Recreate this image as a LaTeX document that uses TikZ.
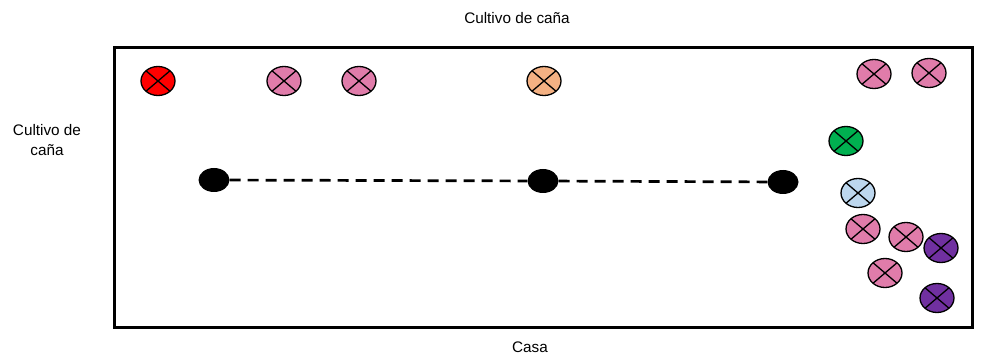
\documentclass[tikz,border=0pt]{standalone}
\usepackage{fontspec}
\setmainfont{Liberation Sans}
\usetikzlibrary{shapes.geometric}
\definecolor{cred}{HTML}{FF0000}
\definecolor{cpink}{HTML}{E07CAA}
\definecolor{corange}{HTML}{F4B183}
\definecolor{cgreen}{HTML}{00B050}
\definecolor{cblue}{HTML}{BDD7EE}
\definecolor{cpurple}{HTML}{7030A0}
\begin{document}
\begin{tikzpicture}[x=1pt,y=-1pt,
  xo/.style={ellipse,draw,line width=1.3pt,minimum width=34pt,minimum height=29pt,inner sep=0pt,fill=#1,
    path picture={\draw[line width=1.3pt] (path picture bounding box.north west)--(path picture bounding box.south east)
      (path picture bounding box.north east)--(path picture bounding box.south west);}},
  dot/.style={ellipse,fill=black,minimum width=31pt,minimum height=24pt,inner sep=0pt},
  lbl/.style={font=\fontsize{15.3}{19.5}\selectfont,align=center,inner sep=0pt}]
\useasboundingbox (0,0) rectangle (982,358);
\node[draw,line width=3pt,minimum width=858pt,minimum height=279pt,inner sep=0pt] (frame) at (543,187.5) {};
\node[lbl] (ttop) at (517,18) {Cultivo de caña};
\node[lbl] (tleft) at (47,140) {Cultivo de\\caña};
\node[lbl] (tbot) at (530,347) {Casa};
\node[xo=cred] (a1) at (158,81) {};
\node[xo=cpink] (a2) at (284,81) {};
\node[xo=cpink] (a3) at (359,81) {};
\node[xo=corange] (a4) at (544,81) {};
\node[xo=cpink] (b1) at (874,74) {};
\node[xo=cpink] (b2) at (929,73) {};
\node[xo=cgreen] (b3) at (846,141) {};
\node[xo=cblue] (b4) at (858,193) {};
\node[xo=cpink] (b5) at (863,229) {};
\node[xo=cpink] (b6) at (906,237) {};
\node[xo=cpurple] (b7) at (941,248) {};
\node[xo=cpink] (b8) at (885,273) {};
\node[xo=cpurple] (b9) at (937,298) {};
\node[dot] (d1) at (214,180) {};
\node[dot] (d2) at (543,181) {};
\node[dot] (d3) at (783,182) {};
\draw[line width=2.7pt,dash pattern=on 11pt off 7pt] (d1) -- (d2) -- (d3);
\end{tikzpicture}
\end{document}
